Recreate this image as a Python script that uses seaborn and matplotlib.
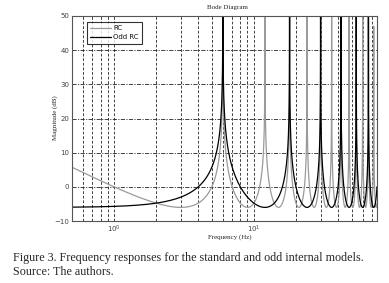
import numpy as np
import pandas as pd
import matplotlib
matplotlib.use("Agg")
import matplotlib.pyplot as plt
import seaborn as sns
from matplotlib.ticker import LogLocator, NullFormatter, FixedLocator
from matplotlib.lines import Line2D

# ---- data ----
series_names = ["RC", "Odd RC"]
fundamental_hz = 6.0                      # RC peaks at k*6 Hz, odd RC peaks at (2k+1)*6 Hz
rc_peaks_hz = [6, 12, 18, 24, 30, 36, 42, 48, 54, 60, 66, 72]
odd_peaks_hz = [6, 18, 30, 42, 54, 66]
freq_range_hz = [0.5, 76.0]
y_ticks = [-10, 0, 10, 20, 30, 40, 50]
y_tick_labels = ["\u221210", "0", "10", "20", "30", "40", "50"]
x_tick_values = [1, 10]
x_tick_labels = ["$10^{0}$", "$10^{1}$"]

# ---- frequency response of the internal models ----
T = 1.0 / fundamental_hz
f = np.logspace(np.log10(freq_range_hz[0]), np.log10(freq_range_hz[1]), 40000)
w = 2 * np.pi * f
rc_mag = 1.0 / np.maximum(np.abs(1 - np.exp(-1j * w * T)), 1e-9)
odd_mag = 1.0 / np.maximum(np.abs(1 + np.exp(-1j * w * T / 2)), 1e-9)
rc_db = np.clip(20 * np.log10(rc_mag), -20, 200)
odd_db = np.clip(20 * np.log10(odd_mag), -20, 200)

df = pd.concat([
    pd.DataFrame({"f": f, "mag": rc_db, "model": series_names[0]}),
    pd.DataFrame({"f": f, "mag": odd_db, "model": series_names[1]}),
])

sns.set_style("white")
plt.rcParams["font.family"] = ["DejaVu Sans"]
plt.rcParams["lines.scale_dashes"] = False

fig = plt.figure(figsize=(3.89, 2.83), dpi=100)
ax = fig.add_axes([72 / 389, 1 - 221 / 283, (377 - 72) / 389, (221 - 16) / 283])

sns.lineplot(data=df, x="f", y="mag", hue="model", palette={"RC": "#9a9a9a", "Odd RC": "#000000"},
             estimator=None, sort=False, linewidth=0.9, ax=ax, legend=False)

ax.set_xscale("log")
ax.set_xlim(*freq_range_hz)
ax.set_ylim(-10, 50)

ax.xaxis.set_major_locator(FixedLocator(x_tick_values))
ax.set_xticklabels(x_tick_labels)
ax.xaxis.set_minor_locator(LogLocator(base=10, subs=np.arange(2, 10)))
ax.xaxis.set_minor_formatter(NullFormatter())
ax.set_yticks(y_ticks)
ax.set_yticklabels(y_tick_labels)

ax.xaxis.grid(True, which="both", linestyle=(0, (2.0, 1.3)), color="#222222", linewidth=0.6)
ax.yaxis.grid(True, which="major", linestyle=(0, (3.0, 1.0, 0.8, 1.0)), color="#222222", linewidth=0.6)
ax.set_axisbelow(True)
ax.tick_params(axis="both", which="both", direction="in", labelsize=5, colors="#444444",
               length=3, width=0.6, pad=2)
ax.tick_params(axis="x", which="minor", length=2)
for s in ax.spines.values():
    s.set_color("#555555")
    s.set_linewidth(0.8)

ax.set_xlabel("")
ax.set_ylabel("")
fig.text(55 / 389, 1 - 118 / 283, "Magnitude (dB)", rotation=90, ha="center", va="center",
         fontsize=5, family="Liberation Serif")
fig.text(230 / 389, 1 - 237 / 283, "Frequency (Hz)", ha="center", va="center",
         fontsize=5, family="Liberation Serif")
fig.text(227 / 389, 1 - 8 / 283, "Bode Diagram", ha="center", va="center",
         fontsize=5, family="Liberation Serif")

handles = [Line2D([0], [0], color="#9a9a9a", lw=0.9), Line2D([0], [0], color="black", lw=0.9)]
leg = ax.legend(handles, series_names, loc="upper left", bbox_to_anchor=(0.05, 0.97),
                fontsize=5, frameon=True, fancybox=False, handlelength=3.0,
                borderpad=0.45, labelspacing=0.45, handletextpad=0.3, borderaxespad=0)
leg.get_frame().set_edgecolor("black")
leg.get_frame().set_linewidth(0.8)
for t in leg.get_texts():
    t.set_color("#111111")

fig.text(13 / 389, 1 - 258 / 283,
         "Figure 3. Frequency responses for the standard and odd internal models.",
         ha="left", va="center", fontsize=8.75, family="Liberation Serif")
fig.text(13 / 389, 1 - 272 / 283, "Source: The authors.",
         ha="left", va="center", fontsize=8.75, family="Liberation Serif")

fig.savefig("out.png", dpi=100)
